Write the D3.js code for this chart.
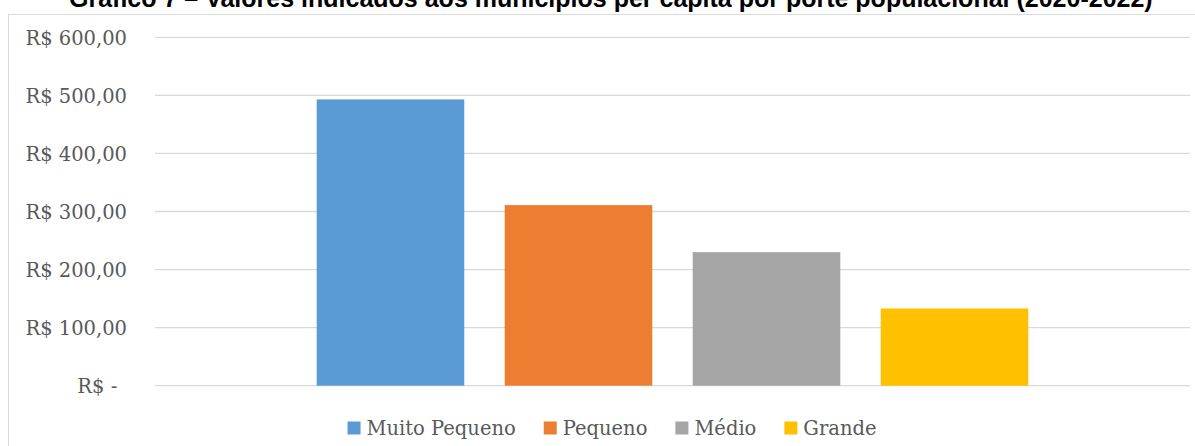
<!DOCTYPE html>
<html>
<head>
<meta charset="utf-8">
<script src="https://cdn.jsdelivr.net/npm/d3@7"></script>
<style>
  html, body { margin: 0; padding: 0; background: #fff; }
  svg { display: block; }
</style>
</head>
<body>
<svg id="chart" width="1195" height="446"></svg>
<script>
// ---- data ----
const title = "Gráfico 7 – Valores indicados aos municípios per capita por porte populacional (2020-2022)";
const categories = ["2020-2022"];
const seriesNames = ["Muito Pequeno", "Pequeno", "Médio", "Grande"];
const seriesValues = [493, 311, 230, 133];
const seriesColors = ["#5B9BD5", "#ED7D31", "#A5A5A5", "#FFC000"];
const tickValues = [0, 100, 200, 300, 400, 500, 600];
const tickLabels = ["R$ -\u2002", "R$ 100,00", "R$ 200,00", "R$ 300,00", "R$ 400,00", "R$ 500,00", "R$ 600,00"];

// ---- layout ----
const W = 1195, H = 446;
const plot = { left: 155, right: 1190, top: 37.3, bottom: 385.7 };
const svg = d3.select("#chart");
const textColor = "#595959";
const serif = "'DejaVu Serif', serif";

// chart border (clipped at the window edges)
svg.append("rect")
  .attr("x", 8.5).attr("y", 14.5)
  .attr("width", W + 20).attr("height", H + 20)
  .attr("fill", "#fff").attr("stroke", "#d9d9d9").attr("stroke-width", 1);

// title (cut off at the top in the reference)
svg.append("text")
  .attr("x", 69).attr("y", 7)
  .attr("font-family", "'Liberation Sans', Arial, sans-serif")
  .attr("font-weight", "bold")
  .attr("font-size", 25)
  .attr("fill", "#000")
  .text(title);

const y = d3.scaleLinear().domain([0, 600]).range([plot.bottom, plot.top]);

const x0 = d3.scaleBand().domain(categories).range([plot.left, plot.right])
  .paddingInner(0).paddingOuter(0.2272).align(0.5);
const x1 = d3.scaleBand().domain(seriesNames).range([0, x0.bandwidth()])
  .paddingInner(0.215).paddingOuter(0);

// gridlines
svg.append("g").selectAll("line").data(tickValues).join("line")
  .attr("x1", plot.left).attr("x2", plot.right)
  .attr("y1", d => y(d)).attr("y2", d => y(d))
  .attr("stroke", "#d9d9d9").attr("stroke-width", 1.3);

// y axis labels
const yAxis = d3.axisLeft(y).tickValues(tickValues)
  .tickFormat((d, i) => tickLabels[i]).tickSize(0).tickPadding(0);
const gy = svg.append("g").attr("transform", `translate(127,0)`).call(yAxis);
gy.select(".domain").remove();
gy.selectAll("text")
  .attr("font-family", serif).attr("font-size", 19.5)
  .attr("fill", textColor).attr("dy", "0.36em")
  .style("white-space", "pre");

// bars
const bars = seriesNames.map((s, i) => ({ cat: categories[0], name: s, value: seriesValues[i], color: seriesColors[i] }));
svg.append("g").selectAll("rect").data(bars).join("rect")
  .attr("x", d => x0(d.cat) + x1(d.name))
  .attr("width", x1.bandwidth())
  .attr("y", d => y(d.value))
  .attr("height", d => y(0) - y(d.value))
  .attr("fill", d => d.color);

// legend
const legend = svg.append("g");
const items = legend.selectAll("g").data(bars).join("g");
items.append("rect").attr("width", 13).attr("height", 13).attr("y", -13.5)
  .attr("fill", d => d.color);
items.append("text").attr("x", 19).attr("y", 0)
  .attr("font-family", serif).attr("font-size", 19.5)
  .attr("fill", textColor).text(d => d.name);
let cx = 0;
const gap = 28;
items.each(function () {
  const g = d3.select(this);
  g.attr("transform", `translate(${cx},0)`);
  cx += 19 + g.select("text").node().getComputedTextLength() + gap;
});
const legendW = cx - gap;
legend.attr("transform", `translate(${612 - legendW / 2},435)`);
</script>
</body>
</html>
